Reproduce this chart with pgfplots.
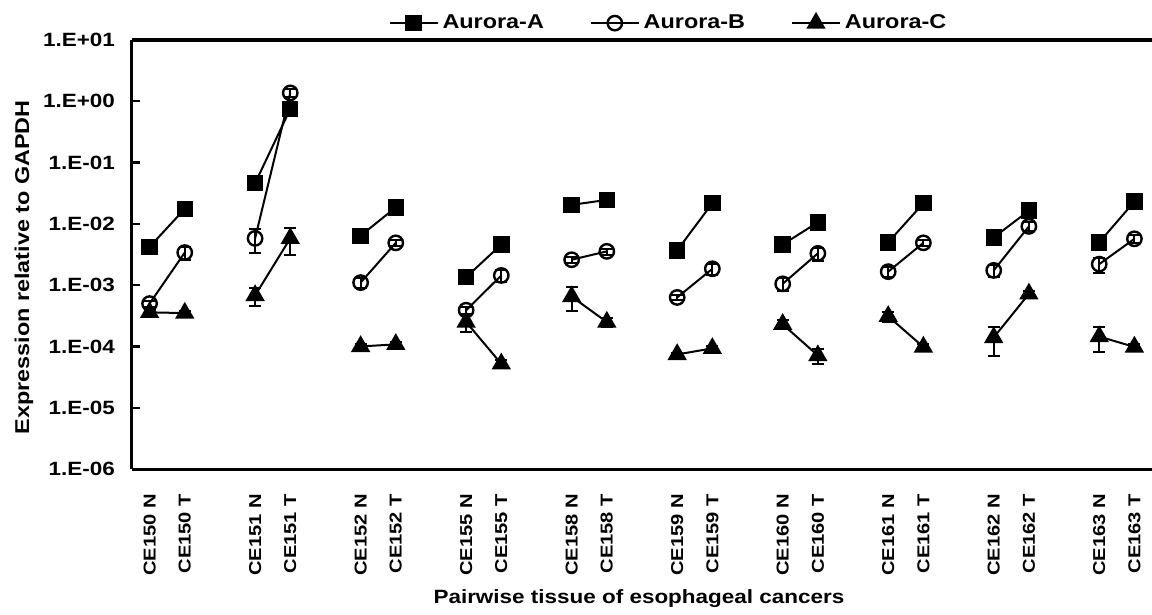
\documentclass[border=0pt]{standalone}
\usepackage{fontspec}
\setmainfont{Liberation Sans}[FakeStretch=1.17]
\usepackage{pgfplots}
\usepackage{pgfplotstable}
\pgfplotsset{compat=1.18}

% x: N at 3k, T at 3k+1, nan row breaks the line between pairs
\pgfplotstableread{
x y e
0 4.2e-3 0
1 1.76e-2 0
2 nan 0
3 4.6e-2 0
4 0.75 0
5 nan 0
6 6.4e-3 0
7 1.86e-2 0
8 nan 0
9 1.35e-3 0
10 4.6e-3 0
11 nan 0
12 2.04e-2 0
13 2.46e-2 0
14 nan 0
15 3.7e-3 0
16 2.17e-2 0
17 nan 0
18 4.6e-3 0
19 1.06e-2 0
20 nan 0
21 5.0e-3 0
22 2.17e-2 0
23 nan 0
24 6.0e-3 0
25 1.64e-2 0
26 nan 0
27 5.0e-3 0
28 2.31e-2 0
}\dataA

\pgfplotstableread{
x y e
0 5.0e-4 0.6e-4
1 3.4e-3 0.8e-3
2 nan 0
3 5.8e-3 2.5e-3
4 1.37 0.2
5 nan 0
6 1.1e-3 2e-4
7 4.9e-3 6e-4
8 nan 0
9 3.9e-4 5e-5
10 1.44e-3 3e-4
11 nan 0
12 2.6e-3 3e-4
13 3.56e-3 4e-4
14 nan 0
15 6.3e-4 6e-5
16 1.85e-3 4e-4
17 nan 0
18 1.05e-3 2.5e-4
19 3.3e-3 8e-4
20 nan 0
21 1.66e-3 3e-4
22 4.9e-3 5e-4
23 nan 0
24 1.74e-3 4e-4
25 9.1e-3 1.5e-3
26 nan 0
27 2.2e-3 6e-4
28 5.7e-3 8e-4
}\dataB

\pgfplotstableread{
x y e
0 3.6e-4 3e-5
1 3.5e-4 3e-5
2 nan 0
3 6.8e-4 2.3e-4
4 5.8e-3 2.7e-3
5 nan 0
6 1.0e-4 1e-5
7 1.08e-4 1e-5
8 nan 0
9 2.5e-4 8e-5
10 5.2e-5 8e-6
11 nan 0
12 6.5e-4 2.7e-4
13 2.5e-4 4e-5
14 nan 0
15 7.4e-5 5e-6
16 9.3e-5 8e-6
17 nan 0
18 2.3e-4 4e-5
19 7.1e-5 2e-5
20 nan 0
21 3.1e-4 6e-5
22 9.8e-5 1e-5
23 nan 0
24 1.4e-4 7e-5
25 7.2e-4 8e-5
26 nan 0
27 1.45e-4 6.5e-5
28 9.8e-5 1e-5
}\dataC

\begin{document}
\begin{tikzpicture}
\begin{axis}[
    scale only axis,
    width=510pt,
    height=214.5pt,
    ymode=log,
    ymin=1e-6, ymax=1e1,
    xmin=-0.5, xmax=28.5,
    axis x line=box,
    axis y line=left,
    axis line style={line width=1.5pt, -},
    xtick pos=left, ytick pos=left,
    tick align=inside,
    ytick={1e-6,1e-5,1e-4,1e-3,1e-2,1e-1,1e0,1e1},
    yticklabels={1.E-06,1.E-05,1.E-04,1.E-03,1.E-02,1.E-01,1.E+00,1.E+01},
    minor tick length=0pt,
    major tick length=4pt,
    every tick/.style={black, line width=1.2pt},
    yticklabel style={xshift=-5pt, font=\bfseries\fontsize{9.6}{12}\selectfont},
    xtick={0,1,3,4,6,7,9,10,12,13,15,16,18,19,21,22,24,25,27,28},
    xticklabels={CE150 N,CE150 T,CE151 N,CE151 T,CE152 N,CE152 T,CE155 N,CE155 T,CE158 N,CE158 T,CE159 N,CE159 T,CE160 N,CE160 T,CE161 N,CE161 T,CE162 N,CE162 T,CE163 N,CE163 T},
    x tick style={draw=none},
    extra x ticks={0.5,1.5,...,27.5},
    extra x tick labels={},
    extra x tick style={tick style={draw=black, line width=1.2pt}},
    xticklabel shift=9pt,
    xticklabel style={rotate=90, anchor=east, font=\bfseries\fontsize{8.6}{11}\selectfont},
    ylabel style={font=\bfseries\fontsize{10}{12}\selectfont,
        at={(rel axis cs:0,0.47)}, anchor=center, yshift=54pt},
    xlabel style={font=\bfseries\fontsize{9.6}{12}\selectfont,
        at={(rel axis cs:0.497,0)}, anchor=center, yshift=-65pt},
    xlabel={Pairwise tissue of esophageal cancers},
    ylabel={Expression relative to GAPDH},
    legend columns=-1,
    legend style={at={(0.527,1)}, anchor=south, yshift=0pt, draw=none, fill=none,
        font=\bfseries\fontsize{10}{12}\selectfont,
        /tikz/every even column/.append style={column sep=21pt}},
    legend image code/.code={\draw[mark repeat=2,mark phase=2] plot coordinates {(0cm,0cm) (0.42cm,0cm) (0.84cm,0cm)};},
    unbounded coords=jump,
    clip=false,
]
\coordinate (o) at (rel axis cs:0,0);
\addplot[black, line width=1pt, mark=square*, mark size=3.6pt,
    mark options={solid, fill=black},
    error bars/.cd, y dir=both, y explicit]
    table[x=x, y=y, y error=e] {\dataA};
\addlegendentry{Aurora-A}
\addplot[black, line width=1pt, mark=o, mark size=3.6pt,
    mark options={solid, fill=white, line width=1.2pt},
    error bars/.cd, y dir=both, y explicit,
    error bar style={line width=1pt},
    error mark options={rotate=90, mark size=3pt, line width=1pt}]
    table[x=x, y=y, y error=e] {\dataB};
\addlegendentry{Aurora-B}
\addplot[black, line width=1pt, mark=triangle*, mark size=4.6pt,
    mark options={solid, fill=black},
    error bars/.cd, y dir=both, y explicit,
    error bar style={line width=1pt},
    error mark options={rotate=90, mark size=3pt, line width=1pt}]
    table[x=x, y=y, y error=e] {\dataC};
\addlegendentry{Aurora-C}
\end{axis}
\pgfresetboundingbox
\path (o) ++(-66pt,-73pt) rectangle ++(576pt,307.5pt);
\end{tikzpicture}
\end{document}
